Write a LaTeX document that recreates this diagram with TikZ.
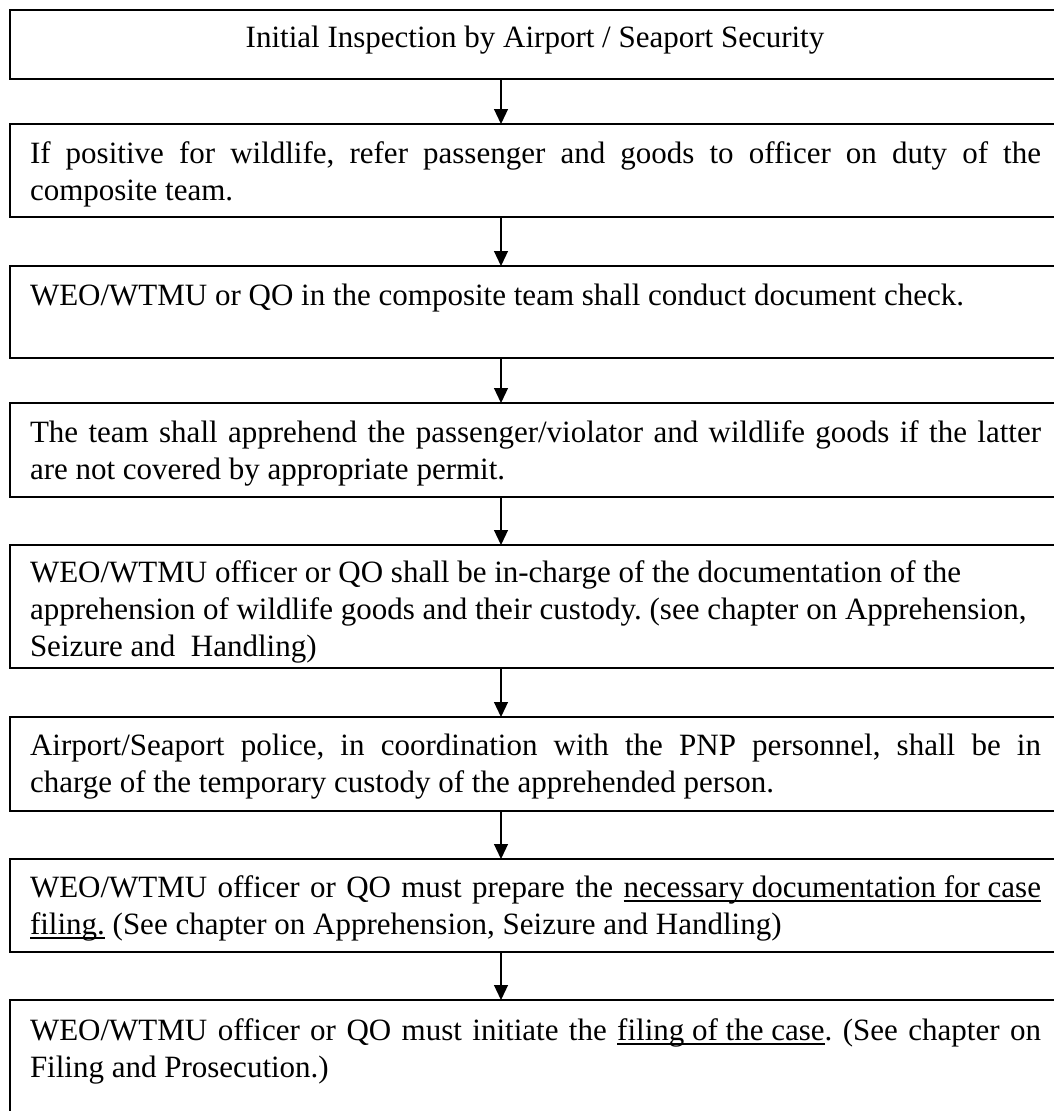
\documentclass[tikz,border=0pt]{standalone}
\usepackage{fontspec}
\setmainfont{Liberation Serif}
\usetikzlibrary{arrows.meta}
\tikzset{
  box/.style={draw, line width=1.2pt, rectangle, anchor=north west, inner sep=0pt, outer sep=0pt, minimum width=1050pt},
  txt/.style={anchor=north west, inner sep=0pt, outer sep=0pt, text width=1011pt, align=justify, font=\fontsize{31}{37}\selectfont\frenchspacing},
  arr/.style={line width=1.2pt, -{Triangle[width=14pt,length=15pt]}}
}
\newcommand{\fst}{\rule{0pt}{28pt}}
\newcommand{\myul}[1]{\setbox0\hbox{#1}\rlap{\rule[-4.5pt]{\wd0}{1.4pt}}\box0\relax}
\begin{document}
\frenchspacing
\begin{tikzpicture}[x=1pt,y=-1pt]
\useasboundingbox (0,0) rectangle (1054,1111);
\clip (0,0) rectangle (1054,1111);
% boxes
\node[box, minimum height=69pt]  (b1) at (10,10) {};
\node[box, minimum height=93pt]  (b2) at (10,124) {};
\node[box, minimum height=92pt]  (b3) at (10,266) {};
\node[box, minimum height=94pt]  (b4) at (10,403) {};
\node[box, minimum height=123pt] (b5) at (10,545) {};
\node[box, minimum height=94pt]  (b6) at (10,717) {};
\node[box, minimum height=93pt]  (b7) at (10,859) {};
\node[box, minimum height=125pt] (b8) at (10,1000) {};
% texts
\node[anchor=base, inner sep=0pt, font=\fontsize{31}{37}\selectfont] (t1) at (535,47) {Initial Inspection by Airport / Seaport Security};
\node[txt] (t2) at (30,135) {\fst If positive for wildlife, refer passenger and goods to officer on duty of the\linebreak composite team.};
\node[txt] (t3) at (30,277) {\fst WEO/WTMU or QO in the composite team shall conduct document check.};
\node[txt] (t4) at (30,414) {\fst The team shall apprehend the passenger/violator and wildlife goods if the latter\linebreak are not covered by appropriate permit.};
\node[txt] (t5) at (30,554) {\fst WEO/WTMU officer or QO shall be in-charge of the documentation of the\newline apprehension of wildlife goods and their custody. (see chapter on Apprehension,\newline Seizure and~ Handling)};
\node[txt] (t6) at (30,727) {\fst Airport/Seaport police, in coordination with the PNP personnel, shall be in\linebreak charge of the temporary custody of the apprehended person.};
\node[txt] (t7) at (30,869) {\fst WEO/WTMU officer or QO must prepare the \myul{necessary documentation for case}\linebreak \myul{filing.} (See chapter on Apprehension, Seizure and Handling)};
\node[txt] (t8) at (30,1012) {\fst WEO/WTMU officer or QO must initiate the \myul{filing of the case}. (See chapter on\linebreak Filing and Prosecution.)};
% arrows
\coordinate (ax) at (501,0);
\draw[arr] (b1.south -| ax) -- (b2.north -| ax);
\draw[arr] (b2.south -| ax) -- (b3.north -| ax);
\draw[arr] (b3.south -| ax) -- (b4.north -| ax);
\draw[arr] (b4.south -| ax) -- (b5.north -| ax);
\draw[arr] (b5.south -| ax) -- (b6.north -| ax);
\draw[arr] (b6.south -| ax) -- (b7.north -| ax);
\draw[arr] (b7.south -| ax) -- (b8.north -| ax);
\end{tikzpicture}
\end{document}
